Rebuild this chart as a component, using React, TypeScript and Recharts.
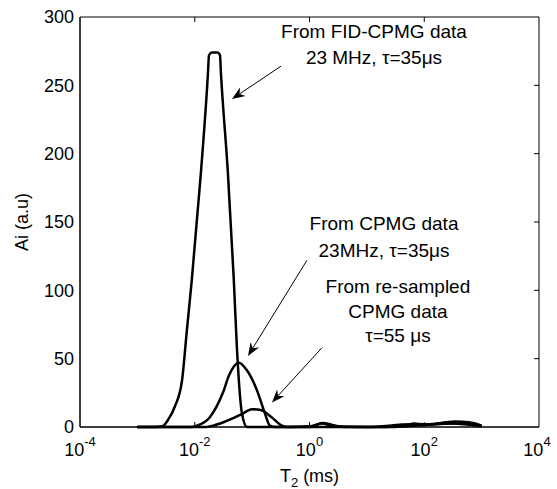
import { LineChart, Line, XAxis, YAxis, ReferenceLine, ReferenceDot, ReferenceArea } from 'recharts';

const FONT = '"Liberation Sans", Arial, Helvetica, sans-serif';

// T2 distributions (T2 in ms, amplitude in a.u.)
const fidT2 = [0.001, 0.002, 0.0027, 0.0034, 0.0045, 0.006, 0.0073, 0.0089, 0.0128, 0.017, 0.0177, 0.02, 0.0251, 0.0275, 0.0286, 0.0378, 0.0479, 0.0543, 0.0664, 0.0811, 0.1, 1.0, 1.3, 1.7, 2.5, 4, 20, 50, 65, 100, 200, 350, 600, 1000];
const fidAmp = [0, 0, 0.5, 5, 15, 34, 71, 108, 186, 259, 272, 274, 274, 272, 259, 186, 108, 58, 10, 0, 0, 0, 1.5, 3, 1.5, 0, 0, 1, 2.5, 2, 3, 4, 3.5, 1];

const cpmgT2 = [0.001, 0.0089, 0.011, 0.0182, 0.0309, 0.0398, 0.0589, 0.0794, 0.121, 0.167, 0.204, 0.251, 1.0, 30, 100, 300, 1000];
const cpmgAmp = [0, 0, 1, 7, 25, 38, 47, 42, 27, 10, 1, 0, 0, 0, 1.5, 2.5, 0.5];

const resT2 = [0.001, 0.0158, 0.0209, 0.0316, 0.0468, 0.0661, 0.1, 0.141, 0.221, 0.331, 0.417, 1.0, 1.7, 2.5, 10, 60, 150, 400, 1000];
const resAmp = [0, 0, 1, 3.5, 6.5, 9.5, 13, 12.5, 7, 1, 0, 0.5, 2.5, 0.5, 0, 2, 2, 3, 0.5];

const xTicks = [1e-4, 1e-2, 1, 1e2, 1e4];
const yTicks = [0, 50, 100, 150, 200, 250, 300];

// annotations (data coordinates)
const noteFid = ['From FID-CPMG data', '23 MHz, \u03c4=35\u03bcs'];
const noteFidAt = { x: 13.3, y: 285 };
const arrowFid = [{ x: 0.318, y: 264 }, { x: 0.0446, y: 240 }];

const noteCpmg = ['From CPMG data', '23MHz, \u03c4=35\u03bcs'];
const noteCpmgAt = { x: 19.9, y: 144 };
const arrowCpmg = [{ x: 0.903, y: 122 }, { x: 0.0847, y: 52 }];

const noteRes = ['From re-sampled', 'CPMG data', '\u03c4=55 \u03bcs'];
const noteResAt = { x: 34.8, y: 98 };
const arrowRes = [{ x: 1.65, y: 58 }, { x: 0.222, y: 18 }];

const toRows = (t: number[], a: number[]) => t.map((v, i) => ({ t: v, a: a[i] }));

const PowerTick = (props: any) => {
  const { x, y, payload } = props;
  const exp = Math.round(Math.log10(payload.value));
  return (
    <text x={x} y={y + 29} textAnchor="middle" fontFamily={FONT} fontSize={18} fill="#000">
      <tspan>10</tspan>
      <tspan dy={-10} fontSize={13}>{exp}</tspan>
    </text>
  );
};

const EdgeTicks = (props: any) => {
  const { x1, y1, x2, y2 } = props;
  const len = Math.hypot(x2 - x1, y2 - y1) || 1;
  const ux = ((x2 - x1) / len) * 5;
  const uy = ((y2 - y1) / len) * 5;
  return (
    <g>
      <line x1={x1} y1={y1} x2={x1 + ux} y2={y1 + uy} stroke="#000" strokeWidth={1} />
      <line x1={x2} y1={y2} x2={x2 - ux} y2={y2 - uy} stroke="#000" strokeWidth={1} />
    </g>
  );
};

const RightTick = (props: any) => {
  const { x1, y1, x2, y2 } = props;
  const xr = Math.max(x1, x2);
  const yr = x1 > x2 ? y1 : y2;
  return <line x1={xr} y1={yr} x2={xr - 5} y2={yr} stroke="#000" strokeWidth={1} />;
};

const Arrow = (props: any) => {
  const { x1, y1, x2, y2 } = props;
  const ang = Math.atan2(y2 - y1, x2 - x1);
  const L = 13;
  const W = 5;
  const bx = x2 - L * Math.cos(ang);
  const by = y2 - L * Math.sin(ang);
  const nx = x2 - L * 0.7 * Math.cos(ang);
  const ny = y2 - L * 0.7 * Math.sin(ang);
  const px = -Math.sin(ang) * W;
  const py = Math.cos(ang) * W;
  return (
    <g>
      <line x1={x1} y1={y1} x2={nx} y2={ny} stroke="#000" strokeWidth={1} />
      <polygon points={`${x2},${y2} ${bx + px},${by + py} ${nx},${ny} ${bx - px},${by - py}`} fill="#000" />
    </g>
  );
};

const noteShape = (lines: string[], gap: number) => (props: any) => {
  const { cx, cy } = props;
  return (
    <text x={cx} y={cy} textAnchor="middle" fontFamily={FONT} fontSize={19} fill="#000">
      {lines.map((s, i) => (
        <tspan key={i} x={cx} dy={i === 0 ? 0 : gap}>{s}</tspan>
      ))}
    </text>
  );
};

export default function App() {
  return (
    <div style={{ position: 'absolute', left: 0, top: 0, width: 557, height: 489, background: '#fff' }}>
      <LineChart width={557} height={489} margin={{ top: 17, right: 18, bottom: 0, left: 0 }}>
        <XAxis
          dataKey="t"
          type="number"
          scale="log"
          domain={[1e-4, 1e4]}
          ticks={xTicks}
          allowDataOverflow
          height={62}
          tickLine={false}
          tickSize={0}
          tickMargin={0}
          axisLine={{ stroke: '#000' }}
          tick={<PowerTick />}
          label={{
            content: (p: any) => {
              const vb = p.viewBox;
              return (
                <text x={vb.x + vb.width / 2} y={vb.y + 55} textAnchor="middle" fontFamily={FONT} fontSize={18} fill="#000">
                  <tspan>T</tspan>
                  <tspan dy={5} fontSize={13}>2</tspan>
                  <tspan dy={-5}> (ms)</tspan>
                </text>
              );
            },
          }}
        />
        <YAxis
          type="number"
          domain={[0, 300]}
          ticks={yTicks}
          width={80}
          tickLine={false}
          tickSize={0}
          tickMargin={6}
          axisLine={{ stroke: '#000' }}
          tick={{ fill: '#000', fontSize: 18, fontFamily: FONT }}
          label={{
            content: (p: any) => {
              const vb = p.viewBox;
              const cx = vb.x + 28;
              const cy = vb.y + vb.height / 2;
              return (
                <text x={cx} y={cy} transform={`rotate(-90, ${cx}, ${cy})`} textAnchor="middle" fontFamily={FONT} fontSize={18} fill="#000">
                  Ai (a.u)
                </text>
              );
            },
          }}
        />
        <ReferenceArea x1={1e-4} x2={1e4} y1={0} y2={300} fill="none" stroke="#000" strokeWidth={1} fillOpacity={0} />
        {xTicks.slice(1, -1).map((v) => (
          <ReferenceLine key={'xt' + v} x={v} shape={<EdgeTicks />} />
        ))}
        {yTicks.slice(1, -1).map((v) => (
          <ReferenceLine key={'yt' + v} y={v} shape={<RightTick />} />
        ))}
        <Line data={toRows(fidT2, fidAmp)} dataKey="a" type="monotone" stroke="#000" strokeWidth={2.5} dot={false} activeDot={false} isAnimationActive={false} />
        <Line data={toRows(cpmgT2, cpmgAmp)} dataKey="a" type="monotone" stroke="#000" strokeWidth={2.5} dot={false} activeDot={false} isAnimationActive={false} />
        <Line data={toRows(resT2, resAmp)} dataKey="a" type="monotone" stroke="#000" strokeWidth={2.5} dot={false} activeDot={false} isAnimationActive={false} />
        <ReferenceLine segment={arrowFid} shape={<Arrow />} />
        <ReferenceLine segment={arrowCpmg} shape={<Arrow />} />
        <ReferenceLine segment={arrowRes} shape={<Arrow />} />
        <ReferenceDot x={noteFidAt.x} y={noteFidAt.y} r={0} shape={noteShape(noteFid, 26)} />
        <ReferenceDot x={noteCpmgAt.x} y={noteCpmgAt.y} r={0} shape={noteShape(noteCpmg, 27)} />
        <ReferenceDot x={noteResAt.x} y={noteResAt.y} r={0} shape={noteShape(noteRes, 24.5)} />
      </LineChart>
    </div>
  );
}
